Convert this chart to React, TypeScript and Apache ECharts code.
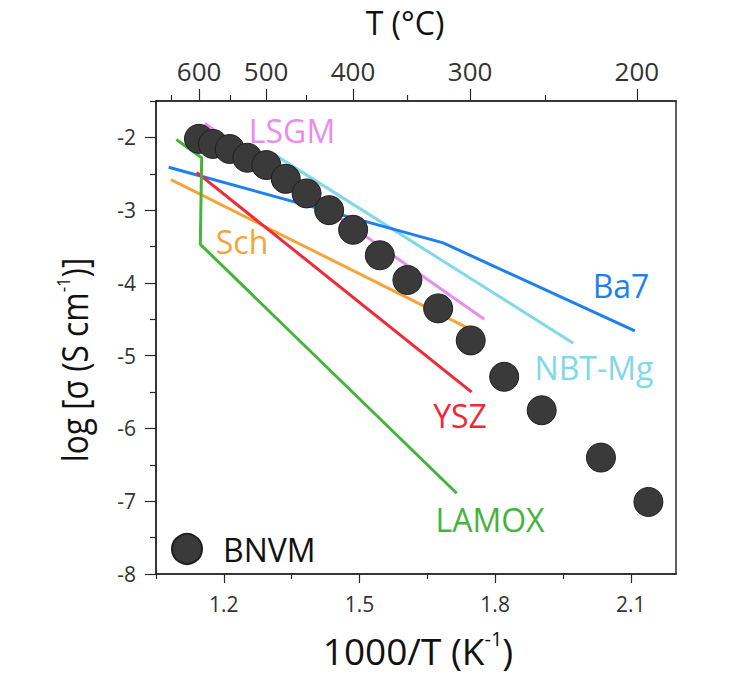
import React, { useEffect, useRef } from "react";
import * as echarts from "echarts";

// BNVM data (1000/T, log sigma)
const BNVM_X = [1.145, 1.176, 1.213, 1.252, 1.294, 1.337, 1.383, 1.433, 1.486, 1.545, 1.606, 1.674, 1.746, 1.82, 1.903, 2.034, 2.139];
const BNVM_Y = [-2.02, -2.09, -2.16, -2.28, -2.38, -2.57, -2.77, -3.0, -3.27, -3.62, -3.96, -4.35, -4.79, -5.29, -5.75, -6.4, -7.01];

// Literature lines
const LSGM_X = [1.158, 1.776];
const LSGM_Y = [-1.81, -4.5];
const NBT_X = [1.31, 1.973];
const NBT_Y = [-2.23, -4.83];
const BA7_X = [1.078, 1.685, 2.109];
const BA7_Y = [-2.41, -3.45, -4.66];
const SCH_X = [1.083, 1.74];
const SCH_Y = [-2.58, -4.62];
const YSZ_X = [1.14, 1.748];
const YSZ_Y = [-2.48, -5.5];
const LAMOX_X = [1.095, 1.151, 1.148, 1.715];
const LAMOX_Y = [-2.03, -2.28, -3.47, -6.89];

// Axis ticks
const X_MAJOR = [1.2, 1.5, 1.8, 2.1];
const X_MINOR = [1.05, 1.35, 1.65, 1.95];
const Y_MAJOR = [-8, -7, -6, -5, -4, -3, -2];
const Y_MINOR = [-7.5, -6.5, -5.5, -4.5, -3.5, -2.5, -1.5];
const T_MAJOR = [600, 500, 400, 300, 200];
const T_MINOR = [650, 550, 450, 350, 250];

const toInv = (t: number) => 1000 / (t + 273.15);
const zip = (xs: number[], ys: number[]) => xs.map((x, i) => [x, ys[i]]);

const FONT = "'Open Sans', 'Noto Sans', sans-serif";
const AXIS_COLOR = "#2a2a2a";
const LABEL_COLOR = "#333";

export default function App() {
  const ref = useRef<HTMLDivElement>(null);

  useEffect(() => {
    if (!ref.current) return;
    const chart = echarts.init(ref.current, null, { renderer: "svg" });

    const baseX = {
      type: "value",
      min: 1.05,
      max: 2.2,
      splitLine: { show: false },
    } as any;
    const baseY = {
      type: "value",
      min: -8,
      max: -1.5,
      splitLine: { show: false },
    } as any;

    const lineSeries = (name: string, xs: number[], ys: number[], color: string) => ({
      name,
      type: "line",
      data: zip(xs, ys),
      showSymbol: false,
      symbol: "none",
      lineStyle: { color, width: 3 },
      z: 2,
      silent: true,
    });

    const label = (text: string, x: number, y: number, fill: string) => ({
      type: "text",
      x,
      y,
      style: { text, fill, fontSize: 32, fontFamily: FONT, align: "center", verticalAlign: "middle" },
    });

    const option: any = {
      animation: false,
      backgroundColor: "#fff",
      textStyle: { fontFamily: FONT },
      grid: {
        left: 156,
        right: 73,
        top: 101,
        bottom: 103,
        show: true,
        borderColor: AXIS_COLOR,
        borderWidth: 1.5,
        backgroundColor: "transparent",
      },
      legend: {
        data: [{ name: "BNVM", icon: "circle" }],
        left: 166,
        top: 528,
        itemWidth: 30,
        itemHeight: 30,
        textStyle: { fontSize: 32, color: "#111", fontFamily: FONT, padding: [0, 0, 0, 16] },
        selectedMode: false,
      },
      xAxis: [
        {
          ...baseX,
          position: "bottom",
          axisLine: { show: true, lineStyle: { color: AXIS_COLOR, width: 1.5 } },
          axisTick: { show: true, customValues: X_MAJOR, length: 9, lineStyle: { color: AXIS_COLOR, width: 1.2 } },
          axisLabel: {
            show: true,
            customValues: X_MAJOR,
            formatter: (v: number) => v.toFixed(1),
            fontSize: 21,
            color: LABEL_COLOR,
            margin: 19,
            fontFamily: FONT,
          },
        },
        {
          ...baseX,
          position: "bottom",
          axisLine: { show: false },
          axisTick: { show: true, customValues: X_MINOR, length: 5, lineStyle: { color: AXIS_COLOR, width: 1.2 } },
          axisLabel: { show: false },
        },
        {
          ...baseX,
          position: "top",
          axisLine: { show: true, lineStyle: { color: AXIS_COLOR, width: 1.5 } },
          axisTick: { show: true, customValues: T_MAJOR.map(toInv), length: 12, lineStyle: { color: AXIS_COLOR, width: 1.2 } },
          axisLabel: {
            show: true,
            customValues: T_MAJOR.map(toInv),
            formatter: (v: number) => String(Math.round(1000 / v - 273.15)),
            fontSize: 26,
            color: LABEL_COLOR,
            margin: 17,
            fontFamily: FONT,
          },
        },
        {
          ...baseX,
          position: "top",
          axisLine: { show: false },
          axisTick: { show: true, customValues: T_MINOR.map(toInv), length: 6, lineStyle: { color: AXIS_COLOR, width: 1.2 } },
          axisLabel: { show: false },
        },
      ],
      yAxis: [
        {
          ...baseY,
          position: "left",
          axisLine: { show: true, lineStyle: { color: AXIS_COLOR, width: 1.5 } },
          axisTick: { show: true, customValues: Y_MAJOR, length: 11, lineStyle: { color: AXIS_COLOR, width: 1.2 } },
          axisLabel: {
            show: true,
            customValues: Y_MAJOR,
            formatter: (v: number) => String(Math.round(v)),
            fontSize: 21,
            color: LABEL_COLOR,
            margin: 20,
            fontFamily: FONT,
          },
        },
        {
          ...baseY,
          position: "left",
          offset: 0,
          axisLine: { show: false },
          axisTick: { show: true, customValues: Y_MINOR, length: 6, lineStyle: { color: AXIS_COLOR, width: 1.2 } },
          axisLabel: { show: false },
        },
      ],
      series: [
        lineSeries("LSGM", LSGM_X, LSGM_Y, "#e98cef"),
        lineSeries("NBT-Mg", NBT_X, NBT_Y, "#80d8ea"),
        lineSeries("Ba7", BA7_X, BA7_Y, "#1e7ff0"),
        lineSeries("Sch", SCH_X, SCH_Y, "#f6a43a"),
        lineSeries("YSZ", YSZ_X, YSZ_Y, "#ee2a36"),
        lineSeries("LAMOX", LAMOX_X, LAMOX_Y, "#44b53c"),
        {
          name: "BNVM",
          type: "scatter",
          data: zip(BNVM_X, BNVM_Y),
          symbol: "circle",
          symbolSize: 29,
          itemStyle: { color: "#3a3a3a", opacity: 1, borderColor: "#1e1e1e", borderWidth: 1 },
          z: 5,
          silent: true,
        },
      ],
      graphic: [
        label("LSGM", 292, 130, "#e98cef"),
        label("Sch", 242, 241, "#f6a43a"),
        label("Ba7", 621, 285, "#1e7ff0"),
        label("NBT-Mg", 594, 367, "#80d8ea"),
        label("YSZ", 460, 415, "#ee2a36"),
        label("LAMOX", 490, 519, "#44b53c"),
        { type: "text", x: 405, y: 22, style: { text: "T (°C)", fill: "#111", fontSize: 32, fontFamily: FONT, align: "center", verticalAlign: "middle" } },
        {
          type: "text",
          x: 418,
          y: 650,
          style: {
            text: "{a|1000/T (K}{s|-1}{a|)}",
            fill: "#111",
            fontFamily: FONT,
            align: "center",
            verticalAlign: "middle",
            rich: {
              a: { fontSize: 37, lineHeight: 44, fontFamily: FONT, fill: "#111" },
              s: { fontSize: 20, lineHeight: 26, verticalAlign: "top", fontFamily: FONT, fill: "#111" },
            },
          },
        },
        {
          type: "text",
          x: 74,
          y: 360,
          rotation: Math.PI / 2,
          scaleX: 0.88,
          style: {
            text: "{a|log [σ (S cm}{s|-1}{a|)]}",
            fill: "#111",
            fontFamily: FONT,
            align: "center",
            verticalAlign: "middle",
            rich: {
              a: { fontSize: 36, lineHeight: 42, fontFamily: FONT, fill: "#111" },
              s: { fontSize: 19, lineHeight: 22, verticalAlign: "top", fontFamily: FONT, fill: "#111" },
            },
          },
        },
      ],
    };

    chart.setOption(option);
    return () => chart.dispose();
  }, []);

  return <div ref={ref} style={{ width: 749, height: 677, position: "absolute", left: 0, top: 0 }} />;
}
